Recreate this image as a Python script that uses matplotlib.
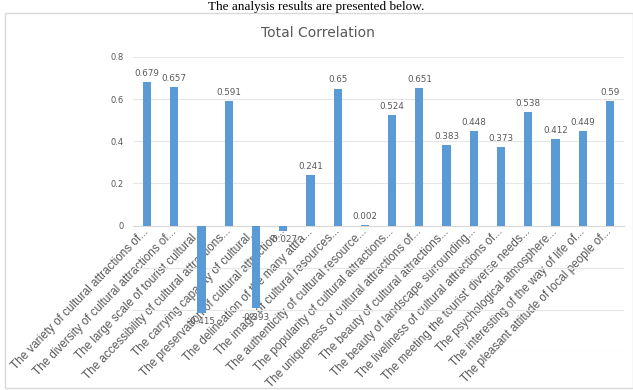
import matplotlib.pyplot as plt
from matplotlib.patches import Rectangle

categories = [
    "The variety of cultural attractions of...",
    "The diversity of cultural attractions of...",
    "The large scale of tourist cultural...",
    "The accessibility of cultural attractions...",
    "The carrying capacity of cultural...",
    "The preservation of cultural attraction...",
    "The delineation of the many attra...",
    "The image of cultural resources...",
    "The authenticity of cultural resource...",
    "The popularity of cultural attractions...",
    "The uniqueness of cultural attractions of...",
    "The beauty of cultural attractions...",
    "The beauty of landscape surrounding...",
    "The liveliness of cultural attractions of...",
    "The meeting the tourist' diverse needs...",
    "The psychological atmosphere...",
    "The interesting of the way of life of...",
    "The pleasant attitude of local people of...",
]
values = [0.679, 0.657, -0.415, 0.591, -0.393, -0.027, 0.241, 0.65, 0.002,
          0.524, 0.651, 0.383, 0.448, 0.373, 0.538, 0.412, 0.449, 0.59]
value_labels = ["0.679", "0.657", "-0.415", "0.591", "-0.393", "-0.027", "0.241",
                "0.65", "0.002", "0.524", "0.651", "0.383", "0.448", "0.373",
                "0.538", "0.412", "0.449", "0.59"]
yticks = [-0.6, -0.4, -0.2, 0, 0.2, 0.4, 0.6, 0.8]
ytick_labels = ["", "", "", "0", "0.2", "0.4", "0.6", "0.8"]

grey = "#595959"
blue = "#5B9BD5"

fig = plt.figure(figsize=(6.33, 3.90), dpi=100)

# chart border (Excel chart area)
fig.patches.append(Rectangle((5 / 633, 0.004), 1 - 5 / 633, 1 - 13 / 390 - 0.004,
                             transform=fig.transFigure, fill=False,
                             edgecolor="#D9D9D9", linewidth=1))

# surrounding document text above the chart
fig.text(0.5, 1 - 10 / 390, "The analysis results are presented below.",
         family="Liberation Serif", fontsize=9.5, ha="center", va="baseline",
         color="black")

ax = fig.add_axes([133.4 / 633, 1 - 352 / 390, (623.6 - 133.4) / 633, (352 - 57) / 390])
x = list(range(len(categories)))
ax.bar(x, values, width=0.3, color=blue, zorder=3)

ax.set_xlim(-0.5, len(categories) - 0.5)
ax.set_ylim(-0.6, 0.8)
ax.set_yticks(yticks)
ax.set_yticklabels(ytick_labels)
ax.grid(axis="y", color="#E6E6E6", linewidth=0.8, zorder=0)

for s in ["top", "right", "left"]:
    ax.spines[s].set_visible(False)
ax.spines["bottom"].set_position(("data", 0))
ax.spines["bottom"].set_color("#D9D9D9")

ax.tick_params(axis="y", length=0, labelsize=6, labelcolor=grey, pad=7)
ax.tick_params(axis="x", length=0, pad=3)
ax.set_xticks(x)
ax.set_xticklabels(categories, rotation=46, ha="right", va="center",
                   rotation_mode="anchor", fontsize=8.4, color=grey,
                   family="Liberation Sans")

for xi, v, lab in zip(x, values, value_labels):
    if v >= 0:
        ax.annotate(lab, (xi, v), xytext=(0, 3), textcoords="offset points",
                    ha="center", va="bottom", fontsize=6.3, color=grey)
    else:
        ax.annotate(lab, (xi, v), xytext=(0, -3), textcoords="offset points",
                    ha="center", va="top", fontsize=6.3, color=grey)

fig.text(318 / 633, 1 - 33 / 390, "Total Correlation", ha="center", va="center",
         fontsize=10, color=grey)

fig.savefig("out.png", dpi=100)
